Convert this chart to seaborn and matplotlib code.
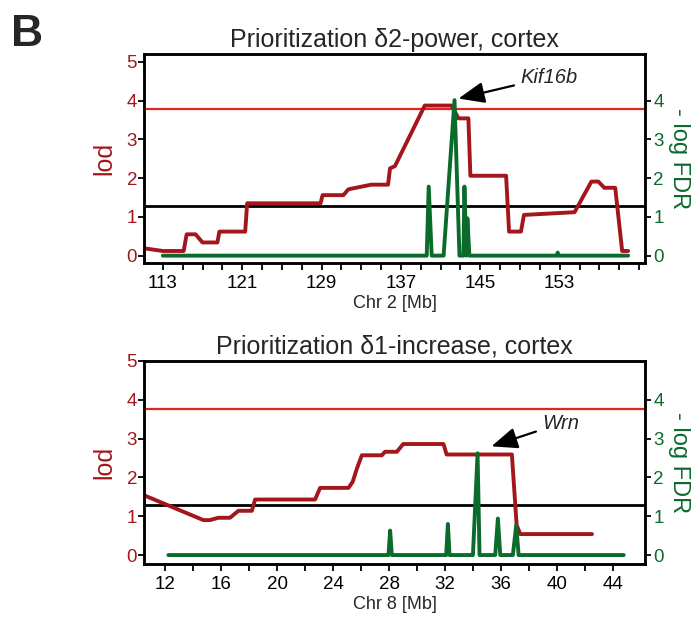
import matplotlib
matplotlib.use("Agg")
import matplotlib.pyplot as plt
import seaborn as sns
import pandas as pd

sns.set_theme(style="white")
plt.rcParams['font.family'] = ['Liberation Sans', 'DejaVu Sans']

# ---- Panel 1: Chr 2 ----
chr2_lod_x = [111.1, 113.0, 115.1, 115.4, 116.3, 117.0, 118.5, 118.7, 121.3, 121.5, 128.9, 129.1,
              131.2, 131.7, 134.0, 135.7, 135.9, 136.4, 139.4, 142.1, 142.8, 143.8, 144.0, 147.6,
              147.9, 149.1, 149.4, 154.5, 156.2, 156.9, 157.5, 158.6, 159.3, 159.9]
chr2_lod_y = [0.19, 0.12, 0.12, 0.55, 0.55, 0.34, 0.34, 0.62, 0.62, 1.35, 1.35, 1.56,
              1.56, 1.71, 1.83, 1.83, 2.25, 2.31, 3.87, 3.87, 3.54, 3.54, 2.06, 2.06,
              0.62, 0.62, 1.05, 1.12, 1.91, 1.91, 1.75, 1.75, 0.12, 0.12]
chr2_fdr_x = [113.0, 139.6, 139.8, 140.1, 141.3, 142.4, 142.9, 143.3, 143.4, 143.6, 143.7, 143.9,
              152.7, 152.8, 152.9, 159.9]
chr2_fdr_y = [0.0, 0.0, 1.78, 0.0, 0.0, 4.01, 0.0, 0.0, 1.78, 0.0, 0.96, 0.0,
              0.0, 0.08, 0.0, 0.0]

# ---- Panel 2: Chr 8 ----
chr8_lod_x = [10.5, 14.74, 15.2, 15.8, 16.64, 17.24, 18.2, 18.43, 22.71, 23.07, 25.1, 25.4,
              25.7, 26.05, 27.48, 27.7, 28.55, 29.0, 31.88, 32.1, 36.76, 37.1, 37.36, 42.48]
chr8_lod_y = [1.54, 0.90, 0.90, 0.96, 0.96, 1.14, 1.14, 1.43, 1.43, 1.73, 1.73, 1.89,
              2.23, 2.57, 2.57, 2.66, 2.66, 2.86, 2.86, 2.59, 2.59, 0.77, 0.54, 0.54]
chr8_fdr_x = [12.24, 27.95, 28.07, 28.19, 32.07, 32.19, 32.31, 33.98, 34.31, 34.45,
              35.57, 35.76, 35.93, 36.83, 37.07, 37.24, 44.74]
chr8_fdr_y = [0.0, 0.0, 0.63, 0.0, 0.0, 0.80, 0.0, 0.0, 2.62, 0.0,
              0.0, 0.94, 0.0, 0.0, 0.77, 0.0, 0.0]

lod_threshold_sig = 3.77
lod_threshold_sugg = 1.29

titles = ["Prioritization \u03b42-power, cortex", "Prioritization \u03b41-increase, cortex"]
xlabels = ["Chr 2 [Mb]", "Chr 8 [Mb]"]
genes = ["Kif16b", "Wrn"]

DARKRED = "#a3161b"
RED = "#e8231e"
GREEN = "#0b6b2b"

fig = plt.figure(figsize=(7.0, 6.19), dpi=100)
ax_top = fig.add_axes([0.2057, 0.5751, 0.7157, 0.3377])
ax_bot = fig.add_axes([0.2057, 0.0889, 0.7157, 0.3280])

panels = [
    dict(ax=ax_top, lx=chr2_lod_x, ly=chr2_lod_y, fx=chr2_fdr_x, fy=chr2_fdr_y,
         xlim=(111.1, 161.6), ylim=(-0.19, 5.2), major=list(range(113, 160, 8)),
         minor=list(range(113, 162, 2)), gene_xy=(142.8, 4.05), text_xy=(149.0, 4.6),
         title=titles[0], xlabel=xlabels[0], gene=genes[0]),
    dict(ax=ax_bot, lx=chr8_lod_x, ly=chr8_lod_y, fx=chr8_fdr_x, fy=chr8_fdr_y,
         xlim=(10.5, 46.26), ylim=(-0.23, 5.0), major=list(range(12, 45, 4)),
         minor=list(range(12, 46, 2)), gene_xy=(35.3, 2.8), text_xy=(38.9, 3.39),
         title=titles[1], xlabel=xlabels[1], gene=genes[1]),
]

for p in panels:
    ax = p["ax"]
    ax2 = ax.twinx()
    lod_df = pd.DataFrame({"pos": p["lx"], "lod": p["ly"]})
    fdr_df = pd.DataFrame({"pos": p["fx"], "fdr": p["fy"]})

    ax.axhline(lod_threshold_sig, color=RED, lw=1.6, zorder=1)
    ax.axhline(lod_threshold_sugg, color="black", lw=2.0, zorder=1)
    sns.lineplot(data=lod_df, x="pos", y="lod", ax=ax, color=DARKRED, lw=2.8,
                 estimator=None, sort=False, zorder=2)
    sns.lineplot(data=fdr_df, x="pos", y="fdr", ax=ax2, color=GREEN, lw=2.8,
                 estimator=None, sort=False, zorder=3)

    ax.set_xlim(*p["xlim"])
    ax.set_ylim(*p["ylim"])
    ax2.set_ylim(*p["ylim"])
    ax.set_yticks(range(0, 6))
    ax2.set_yticks(range(0, 5))
    ax.set_xticks(p["major"])
    ax.set_xticks(p["minor"], minor=True)

    ax.tick_params(axis="y", labelcolor=DARKRED, labelsize=13.5, length=4, width=1.3,
                   direction="out", left=True, pad=1, color="black")
    ax.tick_params(axis="x", which="major", labelsize=13.5, length=5, width=1.3,
                   bottom=True, direction="out", colors="black", pad=3.5)
    ax.tick_params(axis="x", which="minor", length=5, width=1.3, bottom=True,
                   direction="out", color="black")
    ax2.tick_params(axis="y", labelcolor=GREEN, labelsize=13.5, length=4, width=1.3,
                    direction="out", right=True, pad=2, color="black")

    ax.set_ylabel("lod", color=DARKRED, fontsize=18, labelpad=7)
    ax2.set_ylabel("- log FDR", color=GREEN, fontsize=17, rotation=270,
                   va="bottom", labelpad=3)
    ax.set_xlabel(p["xlabel"], fontsize=13, labelpad=2)
    ax.set_title(p["title"], fontsize=18, pad=5)

    for a in (ax, ax2):
        for s in a.spines.values():
            s.set_color("black")
            s.set_linewidth(1.8)

    ax2.annotate(p["gene"], xy=p["gene_xy"], xytext=p["text_xy"],
                 fontsize=14.5, style="italic", va="center", ha="left",
                 arrowprops=dict(arrowstyle="-|>,head_length=1.1,head_width=0.45",
                                 color="black", lw=1.6, shrinkA=2, shrinkB=0))

fig.text(0.016, 0.977, "B", fontsize=32, fontweight="bold", va="top", ha="left")

fig.savefig("out.png", dpi=100)
